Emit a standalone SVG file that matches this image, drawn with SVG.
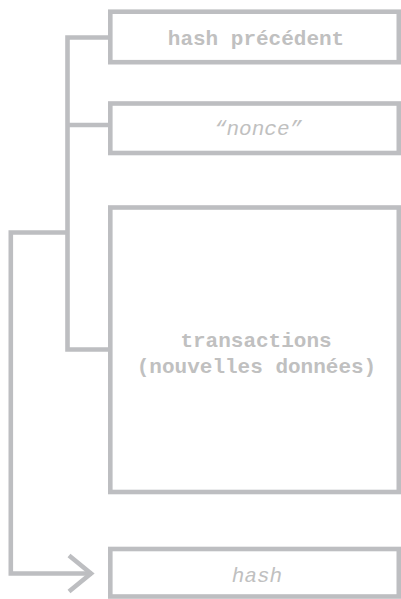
<svg xmlns="http://www.w3.org/2000/svg" width="401" height="599" viewBox="0 0 401 599">
<style>
.box{fill:#fff;stroke:#bdbec1;stroke-width:4.6}
.ln{fill:none;stroke:#bdbec1;stroke-width:4.6}
.t{font-family:"Liberation Mono","DejaVu Sans Mono",monospace;font-size:21px;fill:#c0c0c0;text-anchor:middle}
.b{font-weight:bold}
.i{font-style:italic}
</style>
<rect width="401" height="599" fill="#fff"/>
<g id="connectors">
<path class="ln" d="M108 37.5 H67.5 V349.5 H108 M67.5 125 H108"/>
<path class="ln" d="M67.5 232.5 H10.8 V573.5 H92"/>
<path class="ln" d="M69 555.5 L91 573.5 L69 591.5"/>
</g>
<g id="hash-precedent">
<rect class="box" x="110.3" y="11.7" width="288.5" height="50.5"/>
<text class="t b" x="256" y="45">hash précédent</text>
</g>
<g id="nonce">
<rect class="box" x="110.3" y="103.5" width="288.5" height="49.5"/>
<text class="t i" x="258" y="135">“nonce”</text>
</g>
<g id="transactions">
<rect class="box" x="110.3" y="207.5" width="288.5" height="284.5"/>
<text class="t b" x="256" y="347">transactions</text>
<text class="t b" x="256.5" y="372.7">(nouvelles données)</text>
</g>
<g id="hash">
<rect class="box" x="110.3" y="549" width="288.5" height="47.5"/>
<text class="t i" x="257" y="581.7">hash</text>
</g>
</svg>
